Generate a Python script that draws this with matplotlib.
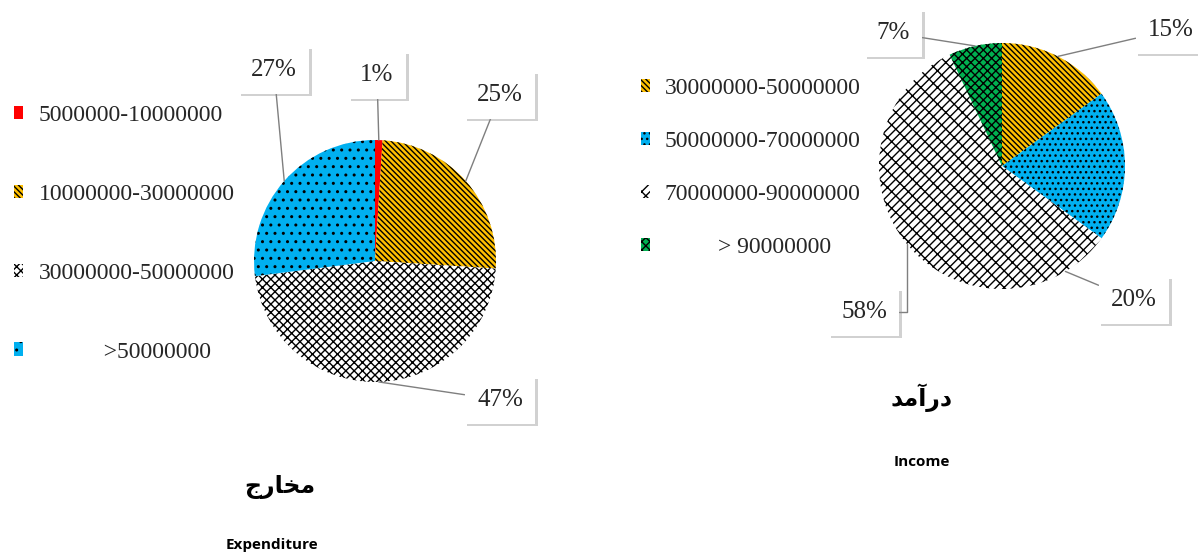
import matplotlib
matplotlib.use("Agg")
import matplotlib.pyplot as plt
import matplotlib.patheffects as pe
import numpy as np

plt.rcParams['hatch.linewidth'] = 1.0

# expenditure (مخارج)
exp_labels = ['5000000-10000000', '10000000-30000000', '30000000-50000000',
              '           >50000000']
exp_values = [1, 25, 47, 27]
exp_colors = ['#ff0000', '#ffc000', 'white', '#00b0f0']
exp_hatch = ['', '\\' * 6, 'xxxx', '..']

# income (درآمد)
inc_labels = ['30000000-50000000', '50000000-70000000', '70000000-90000000',
              '         > 90000000']
inc_values = [15, 20, 58, 7]
inc_colors = ['#ffc000', '#00b0f0', 'white', '#00b050']
inc_hatch = ['\\' * 6, '...', '////\\\\', 'xxxx']

# titles, pre-shaped Persian (visual order, presentation forms)
exp_title = '\uFE9D\uFEAD\uFE8E\uFEA8\uFEE3'
inc_title = '\uFEAA\uFEE3\uFE81\uFEAD\uFEA9'

H = 552  # figure height in px, used to flip image rows


def draw_pie(ax, values, colors, hatches, center, radius, label_pos,
             attach=None, elbow=()):
    """
    Draws one hatched pie with boxed percentage labels and leader lines
    """
    wedges, _ = ax.pie(values, colors=colors, hatch=hatches, startangle=90,
                       counterclock=False, center=center, radius=radius,
                       wedgeprops=dict(edgecolor='black', linewidth=0))
    for i, w in enumerate(wedges):
        ang = (w.theta1 + w.theta2) / 2
        if attach is not None and attach[i] is not None:
            ang = attach[i]
        a = np.deg2rad(ang)
        xy = (center[0] + radius * np.cos(a), center[1] + radius * np.sin(a))
        cs = 'angle,angleA=0,angleB=90,rad=0' if i in elbow else 'arc3'
        t = ax.annotate('{}%'.format(values[i]), xy=xy, xytext=label_pos[i],
                        ha='center', va='center', fontsize=18,
                        family='Liberation Serif', color='#262626',
                        bbox=dict(boxstyle='square,pad=0.5', fc='white', ec='none'),
                        arrowprops=dict(arrowstyle='-', color='#7f7f7f', lw=1,
                                        shrinkA=0, shrinkB=0, connectionstyle=cs))
        t.get_bbox_patch().set_path_effects([
            pe.withSimplePatchShadow(offset=(2, -2), shadow_rgbFace='#8c8c8c', alpha=0.4)])
    return wedges


fig = plt.figure(figsize=(11.98, 5.52), dpi=100)
ax = fig.add_axes([0, 0, 1, 1])

# label positions follow wedge order
w_exp = draw_pie(ax, exp_values, exp_colors, exp_hatch, (375, H - 261), 121,
                 [(377, H - 75), (500, H - 95), (500, H - 400), (274, H - 70)])
w_inc = draw_pie(ax, inc_values, inc_colors, inc_hatch, (1002, H - 166), 123,
                 [(1171, H - 30), (1134, H - 300), (864, H - 312), (893, H - 33)],
                 attach=[None, -59, None, None], elbow=(2,))
# pie() resets the limits, so set them afterwards
ax.set_xlim(0, 1198)
ax.set_ylim(0, H)
ax.set_aspect('equal')
ax.axis('off')

legend_font = dict(family='Liberation Serif', size=17)
leg1 = ax.legend(w_exp, exp_labels, loc='upper left', bbox_to_anchor=(14, H - 105),
                 bbox_transform=ax.transData, frameon=False, prop=legend_font,
                 handlelength=0.4, handleheight=0.5, handletextpad=0.65,
                 labelspacing=2.45, borderaxespad=0, borderpad=0, labelcolor='#262626')
ax.add_artist(leg1)
ax.legend(w_inc, inc_labels, loc='upper left', bbox_to_anchor=(641, H - 78),
          bbox_transform=ax.transData, frameon=False, prop=legend_font,
          handlelength=0.4, handleheight=0.5, handletextpad=0.6,
          labelspacing=1.35, borderaxespad=0, borderpad=0, labelcolor='#262626')

ax.text(280, H - 487, exp_title, ha='center', va='center', fontsize=17,
        fontweight='bold', family='DejaVu Sans')
ax.text(272, H - 545, 'Expenditure', ha='center', va='center', fontsize=11,
        fontweight='bold', family='Open Sans')
ax.text(922, H - 398, inc_title, ha='center', va='center', fontsize=17,
        fontweight='bold', family='DejaVu Sans')
ax.text(922, H - 462, 'Income', ha='center', va='center', fontsize=11,
        fontweight='bold', family='Open Sans')

fig.savefig('out.png', dpi=100)
